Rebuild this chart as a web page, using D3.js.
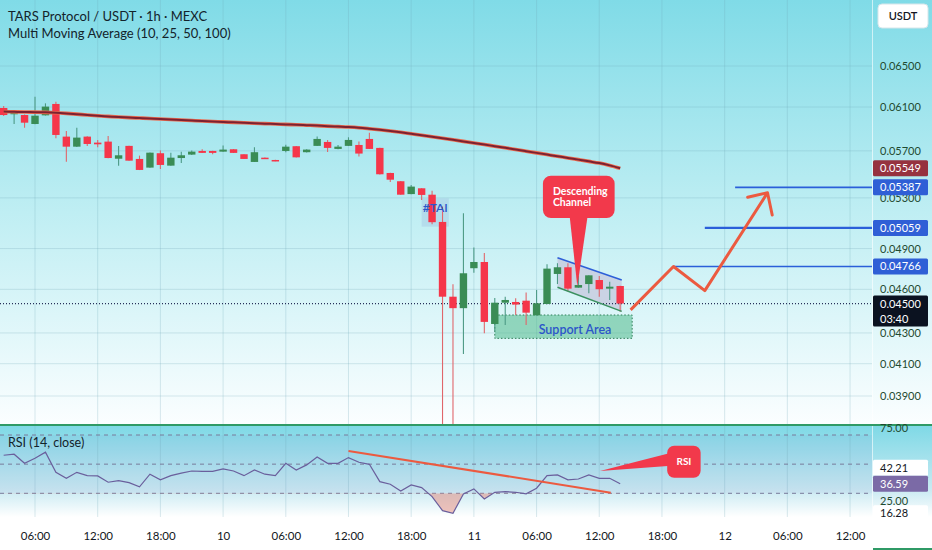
<!DOCTYPE html>
<html>
<head>
<meta charset="utf-8">
<title>TARS/USDT 1h</title>
<script src="https://d3js.org/d3.v7.min.js"></script>
<style>
  body { margin: 0; background: #fff; }
  svg { display: block; font-family: Lato, "Open Sans", sans-serif; }
</style>
</head>
<body>
<div id="chart"></div>
<script>
// ---- data (1h candles, first one 9th 03:00) ----
const firstCandle = Date.UTC(2025, 0, 9, 3);
const opens  = [0.06091,0.06032,0.06025,0.05942,0.06022,0.06129,0.05827,0.05737,0.05827,0.05773,
                0.05782,0.05631,0.05744,0.05629,0.05554,0.05679,0.05571,0.05637,0.05667,0.05699,
                0.05699,0.05693,0.05714,0.05670,0.05603,0.05640,0.05620,0.05699,0.05741,0.05688,
                0.05744,0.05779,0.05717,0.05744,0.05752,0.05806,0.05726,0.05508,0.05438,0.05331,
                0.05379,0.05326,0.05106,0.04548,0.04468,0.04753,0.04799,0.04360,0.04506,0.04511,
                0.04520,0.04419,0.04497,0.04711,0.04760,0.04612,0.04638,0.04667,0.04605,0.04624];
const highs  = [0.06110,0.06066,0.06030,0.06198,0.06135,0.06150,0.05878,0.05908,0.05830,0.05797,
                0.05833,0.05744,0.05746,0.05658,0.05686,0.05702,0.05684,0.05693,0.05702,0.05714,
                0.05700,0.05747,0.05715,0.05671,0.05732,0.05642,0.05621,0.05755,0.05742,0.05714,
                0.05827,0.05797,0.05752,0.05821,0.05782,0.05862,0.05727,0.05509,0.05439,0.05407,
                0.05380,0.05359,0.05229,0.04636,0.05176,0.04907,0.04867,0.04539,0.04548,0.04537,
                0.04577,0.04596,0.04782,0.04790,0.04790,0.04697,0.04701,0.04697,0.04655,0.04626];
const lows   = [0.06016,0.05942,0.05908,0.05940,0.06020,0.05812,0.05605,0.05735,0.05744,0.05732,
                0.05636,0.05571,0.05613,0.05533,0.05552,0.05543,0.05570,0.05594,0.05664,0.05681,
                0.05670,0.05692,0.05681,0.05628,0.05602,0.05628,0.05610,0.05688,0.05642,0.05686,
                0.05743,0.05690,0.05715,0.05743,0.05650,0.05716,0.05496,0.05432,0.05325,0.05330,
                0.05283,0.05088,0.03300,0.03350,0.04162,0.04720,0.04298,0.04309,0.04353,0.04421,
                0.04353,0.04418,0.04496,0.04638,0.04584,0.04611,0.04573,0.04548,0.04525,0.04444];
const closes = [0.06025,0.06047,0.05954,0.06019,0.06104,0.05842,0.05737,0.05818,0.05761,0.05758,
                0.05637,0.05661,0.05614,0.05534,0.05684,0.05577,0.05640,0.05661,0.05693,0.05682,
                0.05682,0.05711,0.05682,0.05629,0.05688,0.05629,0.05611,0.05737,0.05643,0.05711,
                0.05806,0.05726,0.05737,0.05797,0.05676,0.05717,0.05497,0.05451,0.05326,0.05393,
                0.05324,0.05104,0.04548,0.04468,0.04716,0.04799,0.04374,0.04506,0.04525,0.04493,
                0.04437,0.04502,0.04750,0.04760,0.04605,0.04631,0.04701,0.04601,0.04619,0.04500];
const maLine = [0.06057,0.06055,0.06053,0.06052,0.06050,0.06046,0.06040,0.06033,0.06025,0.06018,
                0.06012,0.06006,0.06001,0.05997,0.05993,0.05988,0.05984,0.05979,0.05974,0.05969,
                0.05965,0.05961,0.05957,0.05953,0.05949,0.05945,0.05942,0.05938,0.05935,0.05931,
                0.05927,0.05922,0.05918,0.05914,0.05908,0.05899,0.05889,0.05878,0.05866,0.05853,
                0.05840,0.05826,0.05812,0.05798,0.05784,0.05770,0.05756,0.05741,0.05727,0.05712,
                0.05697,0.05682,0.05667,0.05652,0.05638,0.05623,0.05608,0.05593,0.05573,0.05549];
const rsi    = [56.1,56.8,50.6,54.0,58.2,44.4,40.3,44.4,42.1,41.9,
                37.6,38.7,37.3,34.4,43.1,39.2,42.1,43.8,45.3,45.1,
                45.1,46.7,45.3,42.1,46.0,43.1,42.1,50.6,46.0,49.5,
                54.9,50.6,50.6,54.5,51.3,49.9,38.0,36.2,31.6,35.7,
                33.9,27.7,18.1,16.3,29.6,33.0,26.1,30.7,31.1,30.7,
                29.6,33.5,42.1,42.6,39.2,39.8,42.6,40.3,40.3,36.59];

const priceTicks = [0.065, 0.061, 0.057, 0.053, 0.049, 0.046, 0.043, 0.041, 0.039];
const timeTicks = ["2025-01-09T06:00Z","2025-01-09T12:00Z","2025-01-09T18:00Z","2025-01-10T00:00Z",
                   "2025-01-10T06:00Z","2025-01-10T12:00Z","2025-01-10T18:00Z","2025-01-11T00:00Z",
                   "2025-01-11T06:00Z","2025-01-11T12:00Z","2025-01-11T18:00Z","2025-01-12T00:00Z",
                   "2025-01-12T06:00Z","2025-01-12T12:00Z"].map(d => new Date(d));
const targets = [0.05387, 0.05059, 0.04766];
const lastPrice = 0.045, lastMa = 0.05549, rsiMa = 42.21, rsiMin = 16.28;

const H = 3600e3;
const candles = opens.map((o, i) => ({
  t: new Date(firstCandle + i * H), o: o, h: highs[i], l: lows[i], c: closes[i], ma: maLine[i], rsi: rsi[i]
}));
const at = hrs => new Date(Date.UTC(2025, 0, 9) + hrs * H);

// ---- layout ----
const W = 932, HGT = 550, plotW = 872;
const mainBottom = 424, rsiTop = 426, rsiBottom = 517;

const svg = d3.select("#chart").append("svg").attr("width", W).attr("height", HGT);
const defs = svg.append("defs");

let g1 = defs.append("linearGradient").attr("id", "bgMain").attr("x1", 0).attr("x2", 0).attr("y1", 0).attr("y2", 1);
g1.append("stop").attr("offset", "0%").attr("stop-color", "#80dbe7");
g1.append("stop").attr("offset", "50%").attr("stop-color", "#bfeef3");
g1.append("stop").attr("offset", "100%").attr("stop-color", "#fbfeff");
let g2 = defs.append("linearGradient").attr("id", "bgRsi").attr("x1", 0).attr("x2", 0).attr("y1", 0).attr("y2", 1);
g2.append("stop").attr("offset", "0%").attr("stop-color", "#7fd9e6");
g2.append("stop").attr("offset", "70%").attr("stop-color", "#c9eaf2");
g2.append("stop").attr("offset", "100%").attr("stop-color", "#ffffff");

defs.append("clipPath").attr("id", "clipMain").append("rect").attr("x", 0).attr("y", 0).attr("width", plotW).attr("height", mainBottom);
defs.append("clipPath").attr("id", "clipRsi").append("rect").attr("x", 0).attr("y", rsiTop).attr("width", plotW).attr("height", rsiBottom - rsiTop);

svg.append("rect").attr("width", W).attr("height", HGT).attr("fill", "#fff");
svg.append("rect").attr("width", W).attr("height", mainBottom).attr("fill", "url(#bgMain)");
svg.append("rect").attr("y", rsiTop).attr("width", W).attr("height", rsiBottom - rsiTop).attr("fill", "url(#bgRsi)");

// ---- scales ----
const x = d3.scaleUtc().domain([at(2.65), at(86.1)]).range([0, plotW]);
const y = d3.scaleLog().domain([0.039, 0.065]).range([396, 66]);
const yr = d3.scaleLinear().domain([30, 70]).range([493.3, 435]);

// grid
const grid = svg.append("g");
grid.selectAll("line.v").data(timeTicks).join("line")
  .attr("x1", d => x(d)).attr("x2", d => x(d)).attr("y1", 0).attr("y2", rsiBottom)
  .attr("stroke", "#6fa9b8").attr("stroke-opacity", 0.25);
grid.selectAll("line.h").data(priceTicks).join("line")
  .attr("x1", 0).attr("x2", plotW).attr("y1", d => y(d)).attr("y2", d => y(d))
  .attr("stroke", "#6fa9b8").attr("stroke-opacity", 0.25);

// rsi band
svg.append("rect").attr("x", 0).attr("width", plotW).attr("y", yr(70)).attr("height", yr(30) - yr(70))
  .attr("fill", "#7e57c2").attr("fill-opacity", 0.06);

// ---- main pane ----
const main = svg.append("g").attr("clip-path", "url(#clipMain)");

// support area
main.append("rect")
  .attr("x", x(at(50))).attr("width", x(at(63.15)) - x(at(50)))
  .attr("y", y(0.04421)).attr("height", y(0.04264) - y(0.04421))
  .attr("fill", "#4fb98a").attr("fill-opacity", 0.55)
  .attr("stroke", "#2f7f58").attr("stroke-dasharray", "1.5,2");
main.append("text").attr("x", x(at(54.2))).attr("y", y(0.04264) - 4)
  .attr("fill", "#2c55c9").attr("font-size", 12.5).attr("font-weight", 600).text("Support Area");

// #TAI note box
main.append("rect")
  .attr("x", x(at(43))).attr("width", x(at(45.6)) - x(at(43)))
  .attr("y", y(0.05297)).attr("height", y(0.05069) - y(0.05297))
  .attr("fill", "#a9cde6").attr("fill-opacity", 0.55);

// descending channel
const chTop = [[at(56), 0.04831], [at(62.15), 0.04667]];
const chBot = [[at(56), 0.04615], [at(62.15), 0.04446]];
main.append("path")
  .attr("d", d3.line().x(d => x(d[0])).y(d => y(d[1]))(chTop.concat(chBot.slice().reverse())) + "Z")
  .attr("fill", "#c4c4dc").attr("fill-opacity", 0.7);

// price line
main.append("line").attr("x1", 0).attr("x2", plotW).attr("y1", y(lastPrice)).attr("y2", y(lastPrice))
  .attr("stroke", "#27305a").attr("stroke-dasharray", "1,2").attr("stroke-width", 1.2);

// candles
const bw = 7.4;
const up = "#3a8c55", dn = "#f5364a";
const cg = main.selectAll("g.c").data(candles).join("g");
cg.append("line")
  .attr("x1", d => x(d.t)).attr("x2", d => x(d.t))
  .attr("y1", d => y(d.h)).attr("y2", d => y(d.l))
  .attr("stroke", d => d.c >= d.o ? "#4d9a86" : "#e0666b").attr("stroke-width", 1.1);
cg.append("rect")
  .attr("x", d => x(d.t) - bw / 2).attr("width", bw)
  .attr("y", d => y(Math.max(d.o, d.c)))
  .attr("height", d => Math.max(1.5, y(Math.min(d.o, d.c)) - y(Math.max(d.o, d.c))))
  .attr("fill", d => d.c >= d.o ? up : dn);

// moving average
const maGen = d3.line().x(d => x(d.t)).y(d => y(d.ma)).curve(d3.curveMonotoneX);
main.append("path").datum(candles).attr("d", maGen).attr("fill", "none")
  .attr("stroke", "#ec6a4e").attr("stroke-width", 3.6);
main.append("path").datum(candles).attr("d", maGen).attr("fill", "none")
  .attr("stroke", "#7b2232").attr("stroke-width", 2);

// channel edges
main.append("path").attr("d", d3.line().x(d => x(d[0])).y(d => y(d[1]))(chTop))
  .attr("stroke", "#2d5fd8").attr("stroke-width", 1.5);
main.append("path").attr("d", d3.line().x(d => x(d[0])).y(d => y(d[1]))(chBot))
  .attr("stroke", "#3a9060").attr("stroke-width", 1.5);

main.append("text").attr("x", x(at(44.3))).attr("y", y(0.05297) + 14)
  .attr("text-anchor", "middle").attr("fill", "#2c55c9").attr("font-size", 12).attr("font-weight", 600)
  .text("#TAI");

// target lines
const targetStart = [73.0, 70.1, 67.1];
main.selectAll("line.tg").data(targets).join("line")
  .attr("x1", (d, i) => x(at(targetStart[i]))).attr("x2", plotW)
  .attr("y1", d => y(d)).attr("y2", d => y(d))
  .attr("stroke", "#2b5fd9").attr("stroke-width", (d, i) => i === 1 ? 2.2 : 1.6);

// projected path
const proj = [[63.0, 0.04456], [67.1, 0.04766], [70.1, 0.04591], [76.1, 0.05342]];
const projLine = d3.line().x(d => x(at(d[0]))).y(d => y(d[1]));
main.append("path").attr("d", projLine(proj)).attr("fill", "none")
  .attr("stroke", "#ec5a40").attr("stroke-width", 3).attr("stroke-linejoin", "round");
main.append("path").attr("d", projLine([[74.2, 0.05305], [76.1, 0.05342], [76.55, 0.05161]])).attr("fill", "none")
  .attr("stroke", "#ec5a40").attr("stroke-width", 3).attr("stroke-linejoin", "round").attr("stroke-linecap", "round");

// descending channel callout
const tipX = x(at(57.9)), tipY = y(0.04621);
const bx0 = tipX - 34.4, bx1 = tipX + 37.3, by0 = tipY - 110.7, by1 = tipY - 68.4;
main.append("path")
  .attr("d", `M${tipX - 7.7},${by1 - 2} L${tipX},${tipY} L${tipX + 10.3},${by1 - 2} Z`)
  .attr("fill", "#f2394b");
main.append("rect").attr("x", bx0).attr("y", by0).attr("width", bx1 - bx0).attr("height", by1 - by0)
  .attr("rx", 8).attr("fill", "#f2394b");
main.append("text").attr("x", bx0 + 10).attr("y", by0 + 19.5).attr("fill", "#fff")
  .attr("font-size", 10.5).attr("font-weight", 700).text("Descending");
main.append("text").attr("x", bx0 + 10).attr("y", by0 + 30).attr("fill", "#fff")
  .attr("font-size", 10.5).attr("font-weight", 700).text("Channel");

// ---- RSI pane ----
const rp = svg.append("g").attr("clip-path", "url(#clipRsi)");
rp.selectAll("line.band").data([70, 50, 30]).join("line")
  .attr("x1", 0).attr("x2", plotW).attr("y1", d => yr(d)).attr("y2", d => yr(d))
  .attr("stroke", "#787b9a").attr("stroke-dasharray", "4,4").attr("stroke-width", 1);

defs.append("clipPath").attr("id", "clipOs").append("rect")
  .attr("x", 0).attr("y", yr(30)).attr("width", plotW).attr("height", 60);
rp.append("path").datum(candles)
  .attr("d", d3.area().x(d => x(d.t)).y0(yr(30)).y1(d => yr(d.rsi)))
  .attr("clip-path", "url(#clipOs)")
  .attr("fill", "#e5877a").attr("fill-opacity", 0.5);
rp.append("path").datum(candles)
  .attr("d", d3.line().x(d => x(d.t)).y(d => yr(d.rsi)))
  .attr("fill", "none").attr("stroke", "#6a5f9c").attr("stroke-width", 1.2);

// RSI divergence line
rp.append("line")
  .attr("x1", x(at(36.0))).attr("y1", yr(59.05)).attr("x2", x(at(61.1))).attr("y2", yr(30.45))
  .attr("stroke", "#ec5a40").attr("stroke-width", 2);

// RSI callout
const rTip = [x(at(60.07)), yr(45.3)];
const rb = { x0: x(at(66.5)), x1: x(at(69.7)), y0: yr(62.7), y1: yr(40.7) };
rp.append("path")
  .attr("d", `M${rTip[0]},${rTip[1]} L${rb.x0 + 4},${rb.y0 + 7} L${rb.x0 + 4},${rb.y0 + 20} Z`)
  .attr("fill", "#f2394b");
rp.append("rect").attr("x", rb.x0).attr("y", rb.y0).attr("width", rb.x1 - rb.x0).attr("height", rb.y1 - rb.y0)
  .attr("rx", 7).attr("fill", "#f2394b");
rp.append("text").attr("x", (rb.x0 + rb.x1) / 2).attr("y", (rb.y0 + rb.y1) / 2 + 3.5)
  .attr("text-anchor", "middle").attr("fill", "#fff").attr("font-size", 10).attr("font-weight", 700).text("RSI");

// ---- separators ----
svg.append("line").attr("x1", plotW + 0.5).attr("x2", plotW + 0.5).attr("y1", 0).attr("y2", HGT)
  .attr("stroke", "#ffffff").attr("stroke-opacity", 0.6);
svg.append("rect").attr("x", 0).attr("y", 424).attr("width", W).attr("height", 2).attr("fill", "#2f9a66");
svg.append("rect").attr("x", plotW + 1).attr("y", 548).attr("width", W - plotW).attr("height", 2).attr("fill", "#2f9a66");

// ---- axes ----
const xAxis = svg.append("g").attr("transform", `translate(0,${rsiBottom})`)
  .call(d3.axisBottom(x).tickValues(timeTicks).tickSize(0).tickPadding(15)
    .tickFormat(d => d.getUTCHours() === 0 ? String(d.getUTCDate()) : d3.utcFormat("%H:%M")(d)));
xAxis.select(".domain").remove();
xAxis.selectAll("text").attr("font-size", 11.5).attr("fill", "#131722").attr("font-family", "Lato, sans-serif");

const yAxis = svg.append("g").attr("transform", `translate(${plotW},0)`)
  .call(d3.axisRight(y).tickValues(priceTicks).tickSize(0).tickPadding(8).tickFormat(d3.format(".5f")));
yAxis.select(".domain").remove();
yAxis.selectAll("text").attr("font-size", 11).attr("fill", "#1f4a30").attr("font-family", "Lato, sans-serif");

const rAxis = svg.append("g").attr("transform", `translate(${plotW},0)`)
  .call(d3.axisRight(yr).tickValues([75, 25]).tickSize(0).tickPadding(8).tickFormat(d3.format(".2f")));
rAxis.select(".domain").remove();
rAxis.selectAll("text").attr("font-size", 11).attr("fill", "#1f4a30").attr("font-family", "Lato, sans-serif");

// axis value labels
function tag(cy, txt, bg, fg, h) {
  h = h || 16;
  const g = svg.append("g");
  g.append("rect").attr("x", plotW + 1).attr("y", cy - 8).attr("width", 55).attr("height", h).attr("rx", 1.5).attr("fill", bg);
  g.append("text").attr("x", plotW + 8).attr("y", cy + 4).attr("fill", fg).attr("font-size", 11)
    .attr("font-family", "Lato, sans-serif").text(txt);
  return g;
}
const fmt5 = d3.format(".5f");
tag(y(lastMa), fmt5(lastMa), "#96323f", "#fff");
targets.forEach(v => tag(y(v), fmt5(v), "#2f5fd6", "#fff"));
const lp = tag(y(lastPrice), fmt5(lastPrice), "#0b1220", "#fff", 31);
lp.append("text").attr("x", plotW + 8).attr("y", y(lastPrice) + 19).attr("fill", "#fff").attr("font-size", 11)
  .attr("font-family", "Lato, sans-serif").text("03:40");

const rLast = yr(rsi[rsi.length - 1]);
tag(rLast - 16, rsiMa.toFixed(2), "#ffffff", "#131722");
tag(rLast, rsi[rsi.length - 1].toFixed(2), "#7b6aa6", "#fff");
tag(yr(rsiMin), rsiMin.toFixed(2), "#ffffff", "#131722");

// USDT button
svg.append("rect").attr("x", 878).attr("y", 4).attr("width", 50).attr("height", 24).attr("rx", 4)
  .attr("fill", "#fff").attr("stroke", "#d6e6ea");
svg.append("text").attr("x", 903).attr("y", 20).attr("text-anchor", "middle").attr("font-size", 11)
  .attr("font-weight", 600).attr("fill", "#131722").text("USDT");

// ---- titles ----
svg.append("text").attr("x", 8).attr("y", 21).attr("font-size", 13).attr("fill", "#13232b")
  .text("TARS Protocol / USDT · 1h · MEXC");
svg.append("text").attr("x", 8).attr("y", 38).attr("font-size", 13).attr("fill", "#13232b")
  .text("Multi Moving Average (10, 25, 50, 100)");
svg.append("text").attr("x", 8).attr("y", 447).attr("font-size", 12.5).attr("fill", "#13232b")
  .text("RSI (14, close)");
</script>
</body>
</html>
